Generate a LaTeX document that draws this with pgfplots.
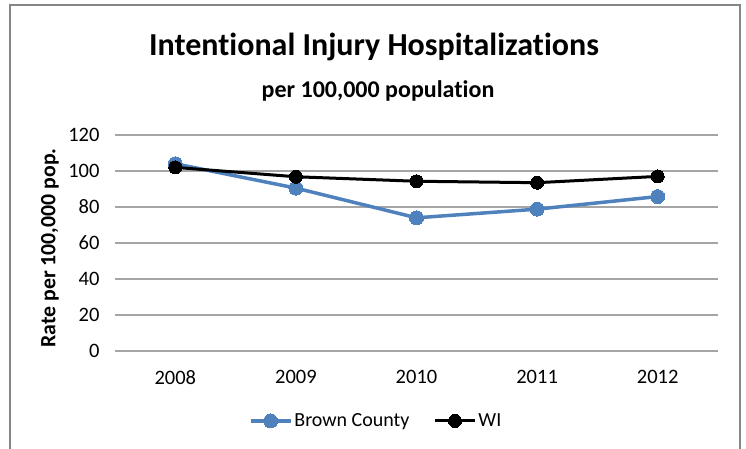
\documentclass[border=0pt]{standalone}
\usepackage{fontspec}
\setmainfont{Carlito}[Ligatures=NoCommon]
\usepackage{pgfplots}
\pgfplotsset{compat=1.18}
\definecolor{bcblue}{RGB}{79,129,189}
\definecolor{gridgray}{RGB}{165,165,165}
\definecolor{framegray}{RGB}{134,134,134}
\begin{document}
\begin{tikzpicture}[x=1pt,y=1pt]
\useasboundingbox (0,0) rectangle (746,449);
\draw[framegray, line width=2pt] (10,-2) -- (10,444) -- (740,444) -- (740,-2);
\node[font=\fontsize{32}{36}\selectfont\bfseries] at (374,402) {Intentional Injury Hospitalizations};
\node[font=\fontsize{24}{28}\selectfont\bfseries] at (378,358) {per 100,000 population};
\node[rotate=90, font=\fontsize{21.8}{26}\selectfont\bfseries] at (50,201) {Rate per 100,000 pop.};
\begin{axis}[at={(115pt,98pt)}, anchor=south west, width=603pt, height=216pt, scale only axis,
  xmin=-0.5, xmax=4.5, ymin=0, ymax=120, ytick={0,20,...,120},
  xtick={0,...,4}, xticklabels={2008,2009,2010,2011,2012},
  axis line style={draw=none}, major tick length=0pt,
  ymajorgrids, grid style={gridgray, line width=1.3pt},
  tick label style={font=\fontsize{20.5}{24}\selectfont},
  /pgf/number format/assume math mode=true,
  yticklabel style={xshift=-12pt},
  xticklabel style={yshift=-16pt},
  legend style={at={(0.433,-0.324)}, anchor=center, draw=none, fill=none,
    legend columns=2, font=\fontsize{20}{24}\selectfont,
    /tikz/every even column/.append style={column sep=22pt}},
  legend image code/.code={\draw[mark repeat=2,mark phase=2,#1] plot coordinates {(0pt,0pt) (20pt,0pt) (40pt,0pt)};},
  clip=false]
\addplot[bcblue, line width=3.5pt, mark=*, mark size=7pt, mark options={fill=bcblue, draw=bcblue, line width=0pt}]
  coordinates {(0,104) (1,90.5) (2,74) (3,78.8) (4,85.8)};
\addlegendentry{Brown County}
\addplot[black, line width=3pt, mark=*, mark size=6.5pt, mark options={fill=black, draw=black, line width=0pt}]
  coordinates {(0,102) (1,96.8) (2,94.3) (3,93.5) (4,97)};
\addlegendentry{WI}
\end{axis}
\end{tikzpicture}
\end{document}
